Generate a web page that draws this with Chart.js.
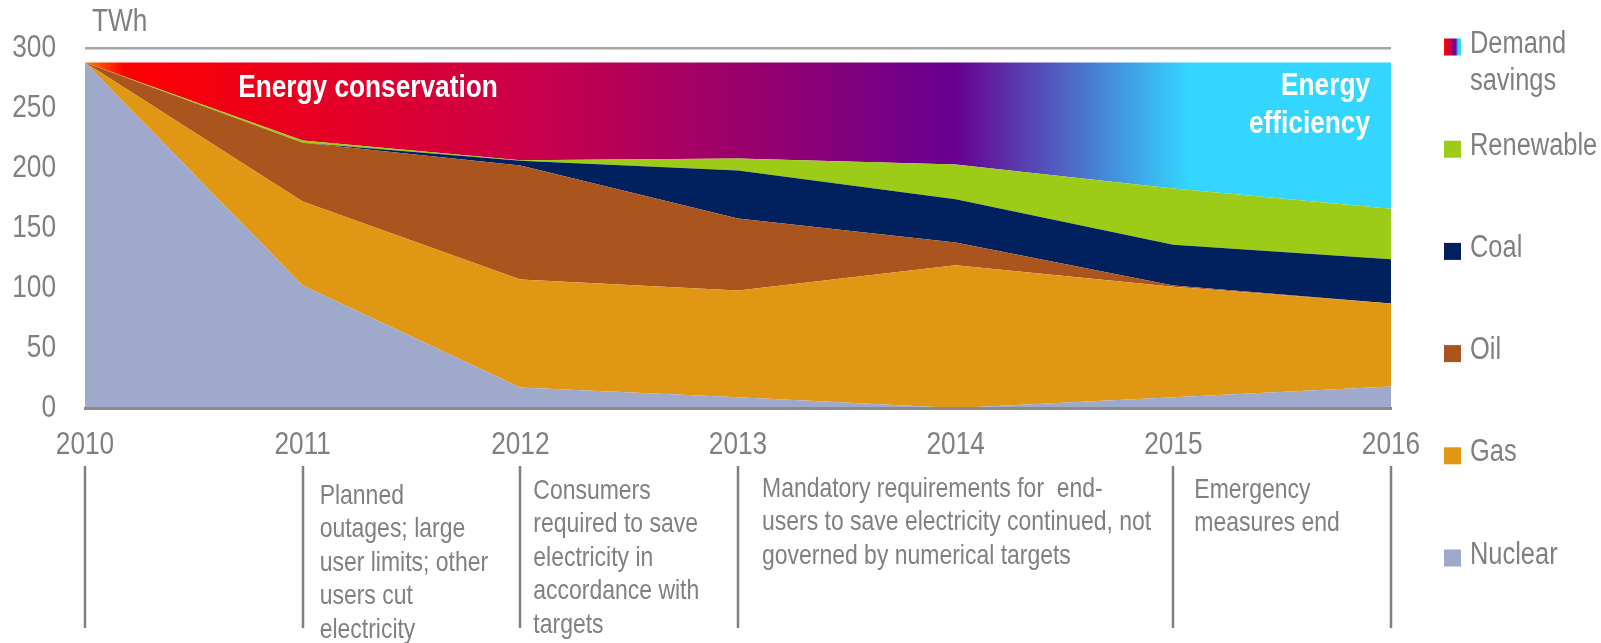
<!DOCTYPE html>
<html lang="en">
<head>
<meta charset="UTF-8">
<title>Electricity supply and demand savings, 2010-2016</title>
<script src="https://cdn.jsdelivr.net/npm/chart.js"></script>
<style>
    html, body { margin: 0; padding: 0; background: #ffffff; }
    .chart-box { position: relative; width: 1601px; height: 643px; }
</style>
</head>
<body>
<div class="chart-box"><canvas id="supplyChart"></canvas></div>
<script>
// values (TWh)
const years = ['2010', '2011', '2012', '2013', '2014', '2015', '2016'];
const nuclear = [288, 102, 17, 9, 0, 9, 18];
const gas = [0, 70, 90, 89, 119, 92, 69];
const oil = [0, 49, 95, 60, 19, 1, 0];
const coal = [0, 0, 4, 40, 36, 34, 37];
const renewable = [0, 2, 0.5, 10, 29, 47, 42];
const demandSavings = [0, 65, 81.5, 80, 85, 105, 122];

const seriesNames = ['Nuclear', 'Gas', 'Oil', 'Coal', 'Renewable', 'Demand savings'];
const yTicks = [0, 50, 100, 150, 200, 250, 300];

// timeline notes under the axis
const markerYears = ['2010', '2011', '2012', '2013', '2015', '2016'];
const noteYears = ['2011', '2012', '2013', '2015'];
const noteLines = [
    ['Planned', 'outages; large', 'user limits; other', 'users cut', 'electricity'],
    ['Consumers', 'required to save', 'electricity in', 'accordance with', 'targets'],
    ['Mandatory requirements for  end-', 'users to save electricity continued, not', 'governed by numerical targets'],
    ['Emergency', 'measures end']
];
const noteOffsets = [17, 13, 24, 21];
const noteTops = [496, 491, 489, 490];

// no Arial Narrow here, so squeeze Liberation Sans horizontally instead
const FONT = "'Liberation Sans', Arial, sans-serif";
const SQUEEZE = 0.82;
const GREY = '#808080';
const colors = {
    Nuclear: '#9fa9cc',
    Gas: '#e09814',
    Oil: '#aa551e',
    Coal: '#00205e',
    Renewable: '#9ccc18'
};

function narrowText(ctx, text, x, y, align) {
    ctx.save();
    ctx.translate(x, y);
    ctx.scale(SQUEEZE, 1);
    ctx.textAlign = align || 'left';
    ctx.textBaseline = 'middle';
    ctx.fillText(text, 0, 0);
    ctx.restore();
}

function savingsGradient(ctx, x0, x1) {
    const g = ctx.createLinearGradient(x0, 0, x1, 0);
    g.addColorStop(0, '#ff7a00');
    g.addColorStop(0.03, '#ff0000');
    g.addColorStop(0.333, '#cc0048');
    g.addColorStop(0.667, '#680090');
    g.addColorStop(0.845, '#33d6ff');
    g.addColorStop(1, '#33d6ff');
    return g;
}

function savingsFill(context) {
    const area = context.chart.chartArea;
    if (!area) return '#ff0000';
    return savingsGradient(context.chart.ctx, area.left, area.right);
}

function area(label, data, fill, bg) {
    return {
        label: label,
        data: data,
        fill: fill,
        backgroundColor: bg,
        borderWidth: 0,
        pointRadius: 0,
        tension: 0
    };
}

const extras = {
    id: 'extras',
    afterDatasetsDraw(chart) {
        const ctx = chart.ctx;
        ctx.save();
        ctx.fillStyle = '#ffffff';
        ctx.font = 'bold 32px ' + FONT;
        narrowText(ctx, 'Energy conservation', 368, 88, 'center');
        narrowText(ctx, 'Energy', 1370, 86, 'right');
        narrowText(ctx, 'efficiency', 1370, 124, 'right');
        ctx.restore();
    },
    afterDraw(chart) {
        const ctx = chart.ctx;
        const x = chart.scales.x;
        const y = chart.scales.y;
        ctx.save();
        ctx.fillStyle = GREY;

        // axis tick labels, positioned by the chart's own scales
        ctx.font = '32px ' + FONT;
        y.ticks.forEach(t => {
            narrowText(ctx, String(t.value), x.left - 29, y.getPixelForValue(t.value), 'right');
        });
        x.ticks.forEach(t => {
            narrowText(ctx, x.getLabelForValue(t.value), x.getPixelForValue(t.value), 445, 'center');
        });

        // unit label
        narrowText(ctx, 'TWh', 92, 22, 'left');

        // timeline markers
        ctx.strokeStyle = GREY;
        ctx.lineWidth = 2.5;
        markerYears.forEach(yr => {
            const px = Math.round(x.getPixelForValue(years.indexOf(yr)));
            ctx.beginPath();
            ctx.moveTo(px, 466);
            ctx.lineTo(px, 628);
            ctx.stroke();
        });

        // notes
        ctx.font = '28px ' + FONT;
        noteYears.forEach((yr, i) => {
            const px = x.getPixelForValue(years.indexOf(yr)) + noteOffsets[i];
            noteLines[i].forEach((line, j) => {
                narrowText(ctx, line, px, noteTops[i] + j * 33.5, 'left');
            });
        });

        // legend, top to bottom
        ctx.font = '31px ' + FONT;
        const legendOrder = seriesNames.slice().reverse();
        legendOrder.forEach((name, i) => {
            const cy = 47 + i * 102.2;
            ctx.fillStyle = name === 'Demand savings'
                ? savingsGradient(ctx, 1444, 1461)
                : colors[name];
            ctx.fillRect(1444, cy - 8.5, 17, 17);
            ctx.fillStyle = GREY;
            if (name === 'Demand savings') {
                narrowText(ctx, 'Demand', 1470, cy - 3, 'left');
                narrowText(ctx, 'savings', 1470, cy + 34, 'left');
            } else {
                narrowText(ctx, name, 1470, cy - 3, 'left');
            }
        });
        ctx.restore();
    }
};

new Chart(document.getElementById('supplyChart'), {
    type: 'line',
    data: {
        labels: years,
        datasets: [
            area(seriesNames[0], nuclear, 'origin', colors.Nuclear),
            area(seriesNames[1], gas, '-1', colors.Gas),
            area(seriesNames[2], oil, '-1', colors.Oil),
            area(seriesNames[3], coal, '-1', colors.Coal),
            area(seriesNames[4], renewable, '-1', colors.Renewable),
            area(seriesNames[5], demandSavings, '-1', savingsFill)
        ]
    },
    options: {
        responsive: true,
        maintainAspectRatio: false,
        animation: false,
        layout: { padding: { top: 48, right: 210, left: 0, bottom: 0 } },
        plugins: {
            legend: { display: false },
            tooltip: { enabled: false }
        },
        scales: {
            x: {
                offset: false,
                grid: { display: false },
                border: { display: true, color: '#8c8c8c', width: 3, z: 1 },
                ticks: { display: false },
                afterFit(scale) { scale.height = 235; }
            },
            y: {
                stacked: true,
                min: 0,
                max: 300,
                afterBuildTicks(scale) { scale.ticks = yTicks.map(v => ({ value: v })); },
                grid: {
                    drawTicks: false,
                    lineWidth: 2.5,
                    color: c => (c.tick && c.tick.value === 300) ? '#a6a6a6' : 'rgba(0,0,0,0)'
                },
                border: { display: false },
                ticks: { display: false },
                afterFit(scale) { scale.width = 85; }
            }
        }
    },
    plugins: [extras]
});
</script>
</body>
</html>
